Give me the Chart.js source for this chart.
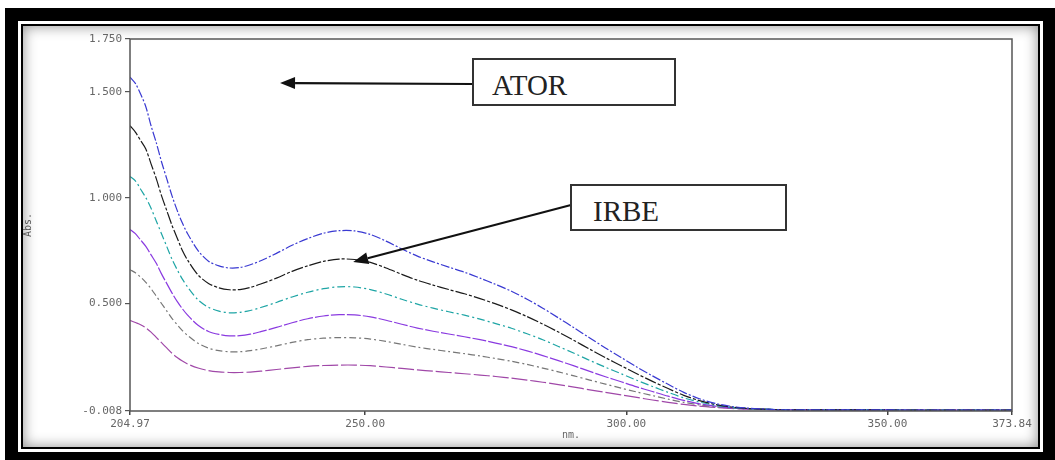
<!DOCTYPE html>
<html>
<head>
<meta charset="utf-8">
<script src="https://cdn.jsdelivr.net/npm/chart.js@4.4.1/dist/chart.umd.min.js"></script>
<style>
  html, body { margin: 0; padding: 0; background: #ffffff; width: 1055px; height: 460px; overflow: hidden; }
  #outer { position: absolute; left: 5px; top: 8px; width: 1050px; height: 452px; box-sizing: border-box;
           border-style: solid; border-color: #000; border-width: 13px 12px 8px 13px; }
  #line { position: absolute; left: 3px; top: 3px; right: 3px; bottom: 3px; border: 2px solid #000; }
  #panel { position: absolute; left: 0; top: 0; right: 0; bottom: 0; background: #fff;
           box-shadow: inset 0 0 14px rgba(0,0,0,0.45); }
  #chartWrap { position: absolute; left: 0; top: 0; width: 1055px; height: 460px; }
  .box { position: absolute; background: #fff; border: 2px solid #333; box-sizing: border-box;
         font-family: "Liberation Serif", "Times New Roman", serif; font-size: 29px; color: #222; line-height: 1; }
  #ator { left: 472px; top: 58px; width: 204px; height: 48px; padding: 11px 0 0 18px; }
  #irbe { left: 570px; top: 184px; width: 217px; height: 47px; padding: 11px 0 0 21px; }
</style>
</head>
<body>
<div id="outer"><div id="line"><div id="panel"></div></div></div>
<div id="chartWrap"><canvas id="c" width="1055" height="460"></canvas></div>
<div class="box" id="ator">ATOR</div>
<div class="box" id="irbe">IRBE</div>
<script>
// Wavelengths (nm)
const wavelengths = [204.97,206,207,208,209,210,211,212,213,214,215,216,
  218,220,222,224,226,228,230,
  233,236,239,242,245,248,251,254,257,260,263,266,269,272,275,278,281,284,287,290,293,296,299,302,305,308,311,314,317,320,323,326,
  330,340,350,360,373.84];

const seriesBlue = [1.57,1.54,1.49,1.43,1.34,1.26,1.17,1.09,1.01,0.94,0.88,0.83,
  0.75,0.70,0.678,0.668,0.670,0.683,0.702,
  0.737,0.775,0.807,0.832,0.844,0.843,0.826,0.795,0.758,0.724,0.697,0.672,0.648,0.620,0.590,0.558,0.520,0.478,0.432,0.385,0.337,0.290,0.245,0.200,0.158,0.118,0.080,0.050,0.028,0.014,0.006,0.002,
  -0.002,-0.003,-0.003,-0.004,-0.004];

const seriesBlack = [1.34,1.31,1.27,1.23,1.16,1.09,1.01,0.94,0.87,0.81,0.75,0.705,
  0.635,0.595,0.574,0.565,0.566,0.576,0.592,
  0.620,0.652,0.678,0.699,0.710,0.708,0.694,0.668,0.638,0.610,0.587,0.566,0.546,0.523,0.498,0.470,0.438,0.403,0.365,0.325,0.284,0.244,0.206,0.168,0.132,0.098,0.066,0.041,0.023,0.011,0.004,0.001,
  -0.002,-0.003,-0.003,-0.004,-0.004];

const seriesTeal = [1.10,1.08,1.04,1.00,0.95,0.89,0.83,0.77,0.71,0.66,0.615,0.578,
  0.517,0.482,0.464,0.456,0.458,0.467,0.481,
  0.505,0.531,0.553,0.570,0.579,0.578,0.566,0.545,0.520,0.497,0.478,0.461,0.445,0.426,0.405,0.383,0.357,0.329,0.297,0.265,0.231,0.199,0.168,0.137,0.108,0.080,0.054,0.034,0.019,0.009,0.004,0.001,
  -0.002,-0.003,-0.003,-0.004,-0.004];

const seriesPurple = [0.85,0.83,0.80,0.77,0.73,0.69,0.64,0.595,0.55,0.51,0.475,0.445,
  0.397,0.368,0.354,0.347,0.348,0.355,0.367,
  0.387,0.409,0.428,0.441,0.447,0.446,0.437,0.421,0.402,0.384,0.369,0.356,0.343,0.329,0.313,0.296,0.276,0.254,0.230,0.205,0.179,0.154,0.130,0.106,0.084,0.062,0.042,0.026,0.015,0.007,0.003,0.000,
  -0.002,-0.003,-0.003,-0.004,-0.004];

const seriesGray = [0.66,0.645,0.625,0.60,0.57,0.535,0.50,0.465,0.43,0.40,0.372,0.349,
  0.312,0.289,0.277,0.272,0.272,0.277,0.285,
  0.300,0.316,0.329,0.336,0.339,0.338,0.332,0.321,0.307,0.294,0.283,0.273,0.263,0.252,0.240,0.227,0.212,0.195,0.177,0.158,0.138,0.119,0.100,0.082,0.065,0.048,0.033,0.021,0.012,0.006,0.002,0.000,
  -0.002,-0.003,-0.003,-0.004,-0.004];

const seriesMagenta = [0.42,0.41,0.40,0.385,0.365,0.34,0.315,0.29,0.265,0.245,0.228,0.214,
  0.195,0.183,0.177,0.174,0.174,0.176,0.180,
  0.188,0.196,0.203,0.207,0.209,0.209,0.206,0.200,0.193,0.186,0.180,0.174,0.168,0.162,0.155,0.147,0.138,0.128,0.117,0.105,0.092,0.080,0.068,0.056,0.044,0.033,0.023,0.015,0.009,0.004,0.001,-0.001,
  -0.002,-0.003,-0.003,-0.004,-0.004];

const xTicks = [204.97, 250.00, 300.00, 350.00, 373.84];
const yTicks = [-0.008, 0.500, 1.000, 1.500, 1.750];

// Annotation targets (data coordinates of arrow tips)
const atorTip = {x: 233.7, y: 1.542};
const irbeTip = {x: 247.7, y: 0.696};

function pts(arr) { return wavelengths.map((w, i) => ({x: w, y: arr[i]})); }

const styles = [
  {data: seriesBlue,    color: '#3a3ad2', dash: [9, 2, 2, 2]},
  {data: seriesBlack,   color: '#1a1a1a', dash: [12, 2, 3, 2]},
  {data: seriesTeal,    color: '#1ea5a5', dash: [8, 3, 2, 3]},
  {data: seriesPurple,  color: '#8a3ae0', dash: [14, 2]},
  {data: seriesGray,    color: '#777777', dash: [7, 3, 2, 3]},
  {data: seriesMagenta, color: '#a048a8', dash: [16, 3]}
];

const frameAndArrows = {
  id: 'frameAndArrows',
  afterDraw(chart) {
    const ctx = chart.ctx;
    const a = chart.chartArea;
    ctx.save();
    ctx.strokeStyle = '#555';
    ctx.lineWidth = 1.5;
    ctx.strokeRect(a.left, a.top, a.right - a.left, a.bottom - a.top);
    const xs = chart.scales.x, ys = chart.scales.y;
    function arrow(x0, y0, tip) {
      const x1 = xs.getPixelForValue(tip.x), y1 = ys.getPixelForValue(tip.y);
      const ang = Math.atan2(y1 - y0, x1 - x0);
      const L = 15, W = 6;
      const bx = x1 - L * Math.cos(ang), by = y1 - L * Math.sin(ang);
      ctx.strokeStyle = '#111';
      ctx.lineWidth = 2.2;
      ctx.beginPath(); ctx.moveTo(x0, y0); ctx.lineTo(bx, by); ctx.stroke();
      ctx.fillStyle = '#111';
      ctx.beginPath();
      ctx.moveTo(x1, y1);
      ctx.lineTo(bx + W * Math.sin(ang), by - W * Math.cos(ang));
      ctx.lineTo(bx - W * Math.sin(ang), by + W * Math.cos(ang));
      ctx.closePath(); ctx.fill();
    }
    arrow(472, 84, atorTip);
    arrow(571, 205, irbeTip);
    ctx.restore();
  }
};

new Chart(document.getElementById('c'), {
  type: 'line',
  data: {
    datasets: styles.map(s => ({
      data: pts(s.data),
      borderColor: s.color,
      borderWidth: 1.2,
      borderDash: s.dash,
      pointRadius: 0,
      tension: 0.3,
      fill: false
    }))
  },
  options: {
    responsive: false,
    animation: false,
    events: [],
    layout: {padding: {left: 0, top: 39, right: 43, bottom: 0}},
    plugins: {legend: {display: false}, tooltip: {enabled: false}},
    scales: {
      x: {
        type: 'linear',
        min: 204.97, max: 373.84,
        afterBuildTicks: s => { s.ticks = xTicks.map(v => ({value: v})); },
        afterFit: s => { s.height = 49; },
        border: {display: false},
        grid: {drawOnChartArea: false, tickLength: 4, color: '#444', lineWidth: 1.5},
        ticks: {
          maxRotation: 0, autoSkip: false, padding: 3, color: '#666',
          font: {family: 'DejaVu Sans Mono', size: 11},
          callback: v => Number(v).toFixed(2)
        },
        title: {display: true, text: 'nm.', color: '#666', padding: {top: 0, bottom: 19},
                font: {family: 'DejaVu Sans Mono', size: 10}}
      },
      y: {
        type: 'linear',
        min: -0.008, max: 1.75,
        afterBuildTicks: s => { s.ticks = yTicks.map(v => ({value: v})); },
        afterFit: s => { s.width = 130; },
        border: {display: false},
        grid: {drawOnChartArea: false, tickLength: 5, color: '#555', lineWidth: 1.2},
        ticks: {
          autoSkip: false, padding: 3, color: '#666',
          font: {family: 'DejaVu Sans Mono', size: 11},
          callback: v => Number(v).toFixed(3)
        },
        title: {display: true, text: 'Abs.', color: '#555', padding: {top: 22},
                font: {family: 'DejaVu Sans Mono', size: 10}}
      }
    }
  },
  plugins: [frameAndArrows]
});
</script>
</body>
</html>
